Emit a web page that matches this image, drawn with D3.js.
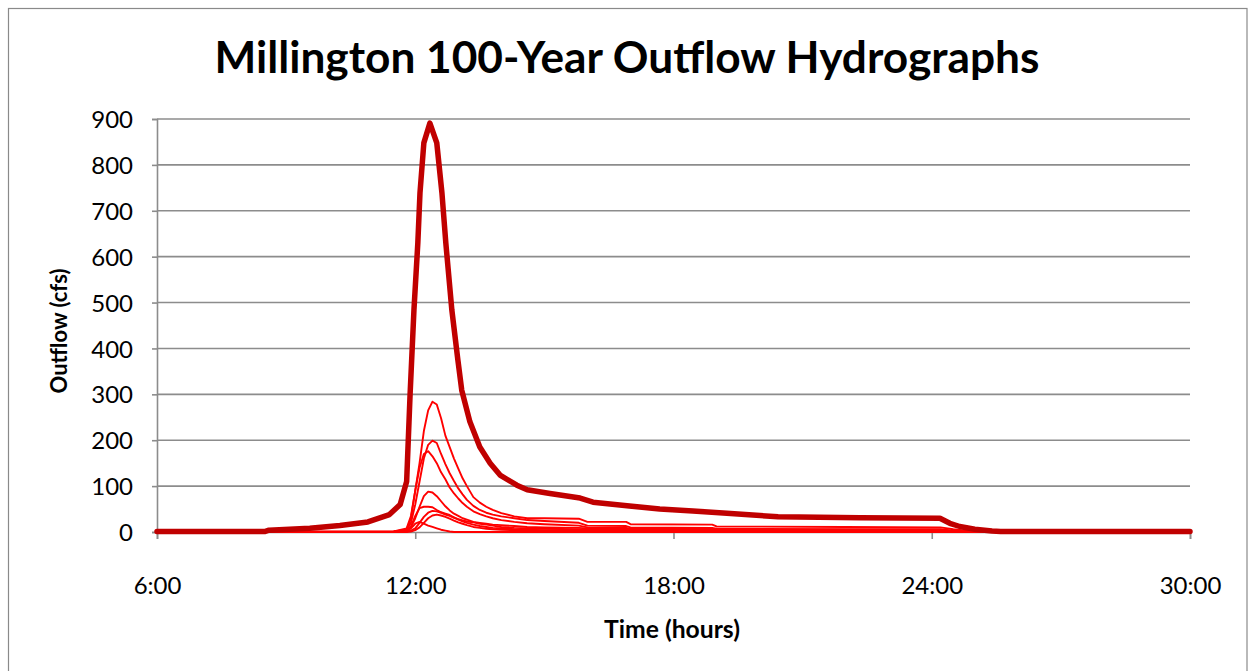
<!DOCTYPE html>
<html>
<head>
<meta charset="utf-8">
<script src="https://cdn.jsdelivr.net/npm/d3@7"></script>
<style>
  html, body { margin: 0; padding: 0; background: #fff; }
  svg { display: block; }
  text { font-family: Lato, "Open Sans", "Liberation Sans", sans-serif; fill: #000; }
</style>
</head>
<body>
<svg id="chart" width="1249" height="671"></svg>
<script>
// ---------- data ----------
const chartTitle = "Millington 100-Year Outflow Hydrographs";
const xTitle = "Time (hours)";
const yTitle = "Outflow (cfs)";
const xTickHours = [6, 12, 18, 24, 30];
const xTickLabels = ["6:00", "12:00", "18:00", "24:00", "30:00"];
const yTickValues = [0, 100, 200, 300, 400, 500, 600, 700, 800, 900];

// total outflow (thick line)
const totalTime = [6, 8.5, 8.6, 9.55, 10.25, 10.9, 11.4, 11.65, 11.8, 11.88, 11.97, 12.06, 12.11, 12.2, 12.34, 12.5, 12.62, 12.71, 12.85, 12.99, 13.08, 13.27, 13.5, 13.74, 13.97, 14.36, 14.6, 15.13, 15.83, 16.13, 16.92, 17.68, 18.45, 19.24, 19.84, 20.43, 22.33, 24.19, 24.42, 24.65, 25.0, 25.4, 25.6, 30];
const totalFlow = [1, 1, 4, 8, 14, 22, 38, 60, 110, 300, 484, 630, 739, 848, 891, 848, 739, 630, 484, 375, 309, 240, 185, 150, 124, 102, 92, 84, 74, 65, 57, 50, 46, 41, 37, 33, 31, 30, 19, 12, 6, 2, 1, 1];

// individual outflow hydrographs (thin lines)
const subTime = [6, 11.5, 11.8, 11.9, 12.0, 12.1, 12.2, 12.3, 12.4, 12.5, 12.6, 12.7, 12.8, 12.9, 13.0, 13.1, 13.2, 13.35, 13.5, 13.65, 13.8, 14.0, 14.3, 14.6, 15.0, 15.8, 16.0, 16.9, 17.0, 18.9, 19.0, 22.0, 24.2, 24.5, 24.8, 25.1, 25.4, 30];
const subA = [0, 1, 5, 30, 90, 150, 220, 265, 284, 278, 248, 210, 185, 160, 138, 117, 100, 76, 64, 55, 48, 41, 34, 30, 30, 29, 22, 22, 17, 16, 12, 11, 10, 6, 3, 1, 0, 0];
const subB = [0, 1, 4, 20, 60, 110, 160, 190, 199, 194, 170, 148, 128, 111, 95, 82, 70, 57, 48, 42, 38, 34, 30, 26, 24, 20, 14, 13, 10, 9, 7, 6, 6, 3, 1, 0, 0, 0];
const subC = [0, 1, 8, 35, 90, 140, 170, 176, 165, 150, 130, 115, 97, 84, 73, 63, 55, 45, 39, 34, 30, 26, 22, 19, 17, 14, 10, 9, 7, 7, 5, 5, 5, 2, 1, 0, 0, 0];
const subD = [0, 0, 3, 10, 30, 55, 78, 88, 86, 78, 67, 56, 47, 40, 35, 30, 27, 22, 20, 18, 16, 15, 13, 11, 10, 9, 8, 7, 6, 6, 5, 4, 4, 2, 1, 0, 0, 0];
const subE = [0, 0, 3, 12, 35, 52, 55, 55, 54, 48, 43, 40, 37, 32, 27, 23, 20, 16, 13, 11, 9, 8, 6, 5, 4, 4, 3, 3, 3, 3, 2, 2, 2, 1, 0, 0, 0, 0];
const subF = [0, 0, 1, 3, 8, 20, 33, 42, 46, 45, 42, 38, 35, 31, 28, 25, 23, 21, 18, 16, 14, 11, 9, 8, 7, 6, 5, 5, 4, 4, 3, 2, 2, 1, 0, 0, 0, 0];
const subG = [0, 0, 0, 1, 4, 10, 20, 30, 36, 38, 36, 33, 29, 25, 21, 18, 15, 11, 9, 7, 6, 5, 4, 3, 3, 2, 2, 2, 1, 1, 1, 1, 1, 0, 0, 0, 0, 0];
const subH = [0, 0, 2, 8, 18, 22, 18, 14, 11, 8, 5, 3, 1, 0, 0, 0, 0, 0, 0, 0, 0, 0, 0, 0, 0, 0, 0, 0, 0, 0, 0, 0, 0, 0, 0, 0, 0, 0];
const subSeries = [subA, subB, subC, subD, subE, subF, subG, subH];

// ---------- layout ----------
const svg = d3.select("#chart");
const plot = { left: 157, right: 1190, top: 119, bottom: 532 };
const gridColor = "#8c8c8c";

svg.append("rect").attr("x", 0).attr("y", 0).attr("width", 1249).attr("height", 671).attr("fill", "#fff");
svg.append("rect").attr("x", 8.5).attr("y", 8.5).attr("width", 1238.5).attr("height", 700)
  .attr("fill", "none").attr("stroke", "#8a8a8a").attr("stroke-width", 1.2);

const x = d3.scaleLinear().domain([6, 30]).range([plot.left, plot.right]);
const y = d3.scaleLinear().domain([0, 900]).range([plot.bottom, plot.top]);

// gridlines
svg.append("g").selectAll("line").data(yTickValues.filter(v => v > 0)).join("line")
  .attr("x1", plot.left).attr("x2", plot.right)
  .attr("y1", d => y(d)).attr("y2", d => y(d))
  .attr("stroke", gridColor).attr("stroke-width", 1.6);

// y axis
const yAxis = d3.axisLeft(y).tickValues(yTickValues).tickSize(5).tickPadding(19);
const gy = svg.append("g").attr("transform", `translate(${plot.left},0)`).call(yAxis);
gy.select(".domain").attr("stroke", gridColor).attr("stroke-width", 1.6);
gy.selectAll(".tick line").attr("stroke", gridColor).attr("stroke-width", 1.6);
gy.selectAll(".tick text").attr("font-family", "Lato, 'Open Sans', sans-serif")
  .attr("font-size", 24).attr("fill", "#000").attr("dy", "0.36em");

// x axis
const xAxis = d3.axisBottom(x).tickValues(xTickHours)
  .tickFormat((d, i) => xTickLabels[i]).tickSize(7).tickPadding(55);
const gx = svg.append("g").attr("transform", `translate(0,${plot.bottom})`).call(xAxis);
gx.select(".domain").attr("stroke", gridColor).attr("stroke-width", 1.6);
gx.selectAll(".tick line").attr("stroke", gridColor).attr("stroke-width", 1.6);
gx.selectAll(".tick text").attr("font-family", "Lato, 'Open Sans', sans-serif")
  .attr("font-size", 24).attr("fill", "#000").attr("dy", "0");

// lines
const lineGen = (times) => d3.line().x((d, i) => x(times[i])).y(d => y(d));
const gl = svg.append("g");
subSeries.forEach(s => {
  gl.append("path").attr("d", lineGen(subTime)(s))
    .attr("fill", "none").attr("stroke", "#ff0000").attr("stroke-width", 1.9)
    .attr("stroke-linejoin", "round");
});
gl.append("path").attr("d", lineGen(totalTime)(totalFlow))
  .attr("fill", "none").attr("stroke", "#c00000").attr("stroke-width", 5.5)
  .attr("stroke-linejoin", "round").attr("stroke-linecap", "round");

// titles
function fit(sel, target) {
  const w = sel.node().getComputedTextLength();
  const fs = parseFloat(sel.attr("font-size"));
  sel.attr("font-size", fs * target / w);
}
const t = svg.append("text").attr("x", 627).attr("y", 73).attr("text-anchor", "middle")
  .attr("font-weight", "bold").attr("font-size", 40).text(chartTitle);
fit(t, 825);

const xt = svg.append("text").attr("x", 672).attr("y", 638).attr("text-anchor", "middle")
  .attr("font-weight", "bold").attr("font-size", 20).text(xTitle);
fit(xt, 136);

const yt = svg.append("text").attr("transform", "translate(67,331) rotate(-90)")
  .attr("text-anchor", "middle").attr("font-weight", "bold").attr("font-size", 20).text(yTitle);
fit(yt, 125);
</script>
</body>
</html>
